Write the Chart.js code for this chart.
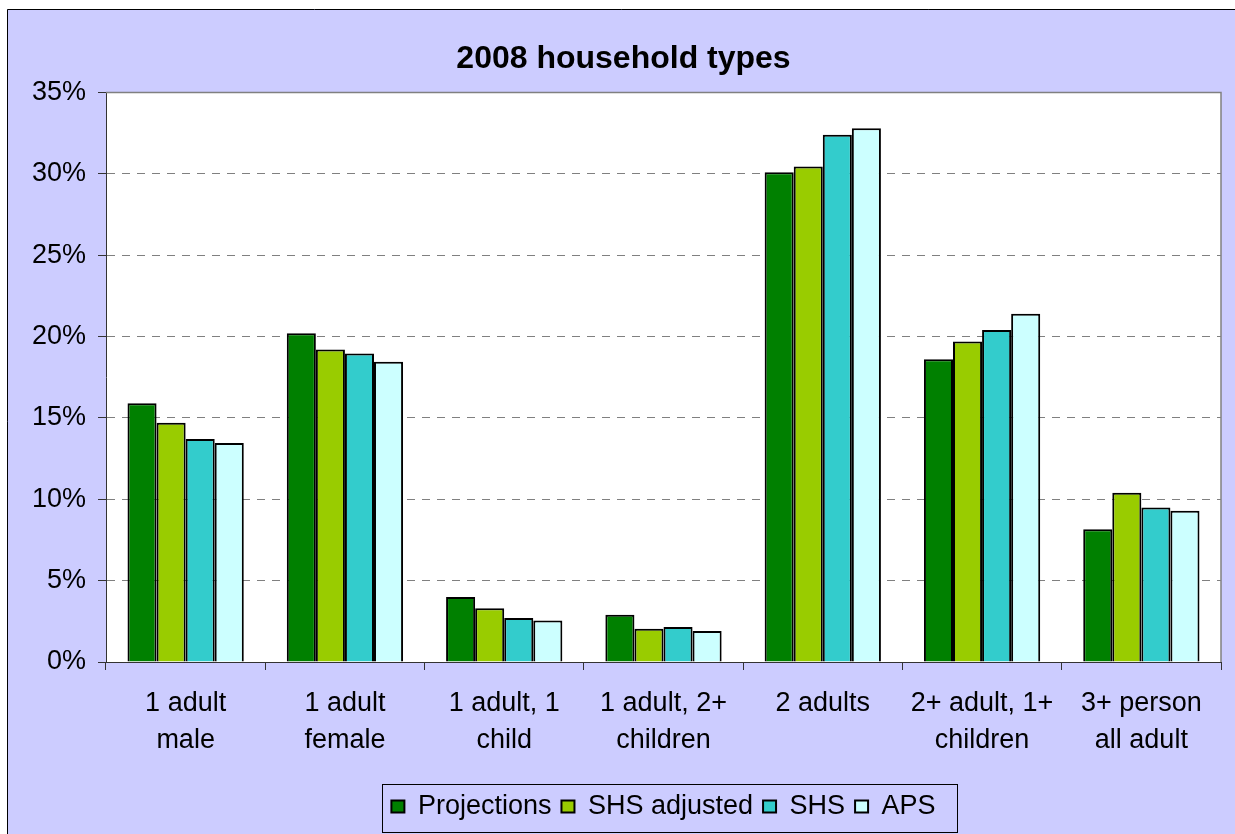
<!DOCTYPE html>
<html>
<head>
<meta charset="utf-8">
<title>2008 household types</title>
<script src="https://cdn.jsdelivr.net/npm/chart.js@4/dist/chart.umd.min.js"></script>
<style>
  html, body { margin: 0; padding: 0; background: #fff; }
  #chart { display: block; }
</style>
</head>
<body>
<canvas id="chart" width="1235" height="834"></canvas>
<script>
// household type categories (multi-line labels)
const categories = [
    ["1 adult", "male"],
    ["1 adult", "female"],
    ["1 adult, 1", "child"],
    ["1 adult, 2+", "children"],
    ["2 adults"],
    ["2+ adult, 1+", "children"],
    ["3+ person", "all adult"]
];

// share of households, percent
const projections = [15.9, 20.2, 4.0, 2.9, 30.1, 18.6, 8.15];
const shsAdjusted = [14.7, 19.2, 3.3, 2.05, 30.45, 19.7, 10.4];
const shs = [13.7, 18.95, 2.7, 2.15, 32.4, 20.4, 9.5];
const aps = [13.45, 18.45, 2.55, 1.9, 32.8, 21.4, 9.3];

const yMax = 35;
const yStep = 5;

Chart.defaults.font.family = '"Liberation Sans", Arial, sans-serif';
Chart.defaults.color = "#000";

// frame, lavender background and white plot area
const backgroundPlugin = {
    id: "background",
    afterLayout(chart) {
        // title sits a bit right of the canvas centre in the original
        chart.titleBlock.left += 13;
        chart.titleBlock.right += 13;
    },
    beforeDraw(chart) {
        const ctx = chart.ctx;
        const area = chart.chartArea;
        ctx.save();
        ctx.fillStyle = "#fff";
        ctx.fillRect(0, 0, chart.width, chart.height);
        ctx.fillStyle = "#ccccff";
        ctx.fillRect(7, 9, chart.width - 7, chart.height - 9);
        ctx.strokeStyle = "#000";
        ctx.lineWidth = 1;
        ctx.beginPath();
        ctx.moveTo(7.5, chart.height);
        ctx.lineTo(7.5, 9.5);
        ctx.lineTo(chart.width, 9.5);
        ctx.stroke();
        ctx.fillStyle = "#fff";
        ctx.fillRect(area.left, area.top, area.right - area.left, area.bottom - area.top);
        ctx.restore();
    },
    beforeDatasetsDraw(chart) {
        // top and right edge of the plot area
        const ctx = chart.ctx;
        const area = chart.chartArea;
        ctx.save();
        ctx.strokeStyle = "#808080";
        ctx.lineWidth = 1.5;
        ctx.beginPath();
        ctx.moveTo(area.left, area.top);
        ctx.lineTo(area.right, area.top);
        ctx.lineTo(area.right, area.bottom);
        ctx.stroke();
        ctx.restore();
    },
    afterDraw(chart) {
        // box around the legend
        const boxes = chart.legend.legendHitBoxes;
        if (!boxes || !boxes.length) return;
        const first = boxes[0];
        const last = boxes[boxes.length - 1];
        const cy = first.top + first.height / 2;
        const ctx = chart.ctx;
        ctx.save();
        ctx.strokeStyle = "#000";
        ctx.lineWidth = 1;
        const l = Math.round(first.left - 9) + 0.5;
        const r = Math.round(last.left + last.width + 21) + 0.5;
        const t = Math.round(cy - 22.5) + 0.5;
        const b = Math.round(cy + 25.5) + 0.5;
        ctx.strokeRect(l, t, r - l, b - t);
        ctx.restore();
    }
};

new Chart(document.getElementById("chart"), {
    type: "bar",
    data: {
        labels: categories,
        datasets: [
            { label: "Projections", data: projections, backgroundColor: "#008000" },
            { label: "SHS adjusted", data: shsAdjusted, backgroundColor: "#99cc00" },
            { label: "SHS", data: shs, backgroundColor: "#33cccc" },
            { label: "APS", data: aps, backgroundColor: "#ccffff" }
        ]
    },
    options: {
        responsive: false,
        animation: false,
        layout: { padding: { left: 0, right: 14, top: 0, bottom: 4 } },
        datasets: {
            bar: {
                borderColor: "#000",
                borderWidth: 2,
                categoryPercentage: 0.73,
                barPercentage: 1.0
            }
        },
        plugins: {
            title: {
                display: true,
                text: "2008 household types",
                font: { size: 32, weight: "bold" },
                color: "#000",
                padding: { top: 40, bottom: 14 }
            },
            legend: {
                position: "bottom",
                fullSize: false,
                labels: {
                    font: { size: 27 },
                    color: "#000",
                    boxWidth: 13,
                    boxHeight: 12,
                    padding: 10
                }
            },
            tooltip: { enabled: false }
        },
        scales: {
            x: {
                grid: {
                    drawOnChartArea: false,
                    drawTicks: true,
                    tickLength: 8,
                    color: "#333",
                    tickColor: "#333"
                },
                border: { color: "#333", width: 1 },
                ticks: {
                    font: { size: 27, lineHeight: 1.37 },
                    color: "#000",
                    padding: 15,
                    maxRotation: 0,
                    autoSkip: false
                },
                afterFit(scale) { scale.height = 121; }
            },
            y: {
                min: 0,
                max: yMax,
                ticks: {
                    stepSize: yStep,
                    font: { size: 27 },
                    color: "#000",
                    padding: 12,
                    callback: v => v + "%"
                },
                grid: {
                    color: "#808080",
                    lineWidth: 1,
                    tickLength: 8,
                    tickColor: "#333",
                    tickBorderDash: []
                },
                border: { color: "#333", width: 1, dash: [8, 7] },
                afterFit(scale) { scale.width = 106; }
            }
        }
    },
    plugins: [backgroundPlugin]
});
</script>
</body>
</html>
